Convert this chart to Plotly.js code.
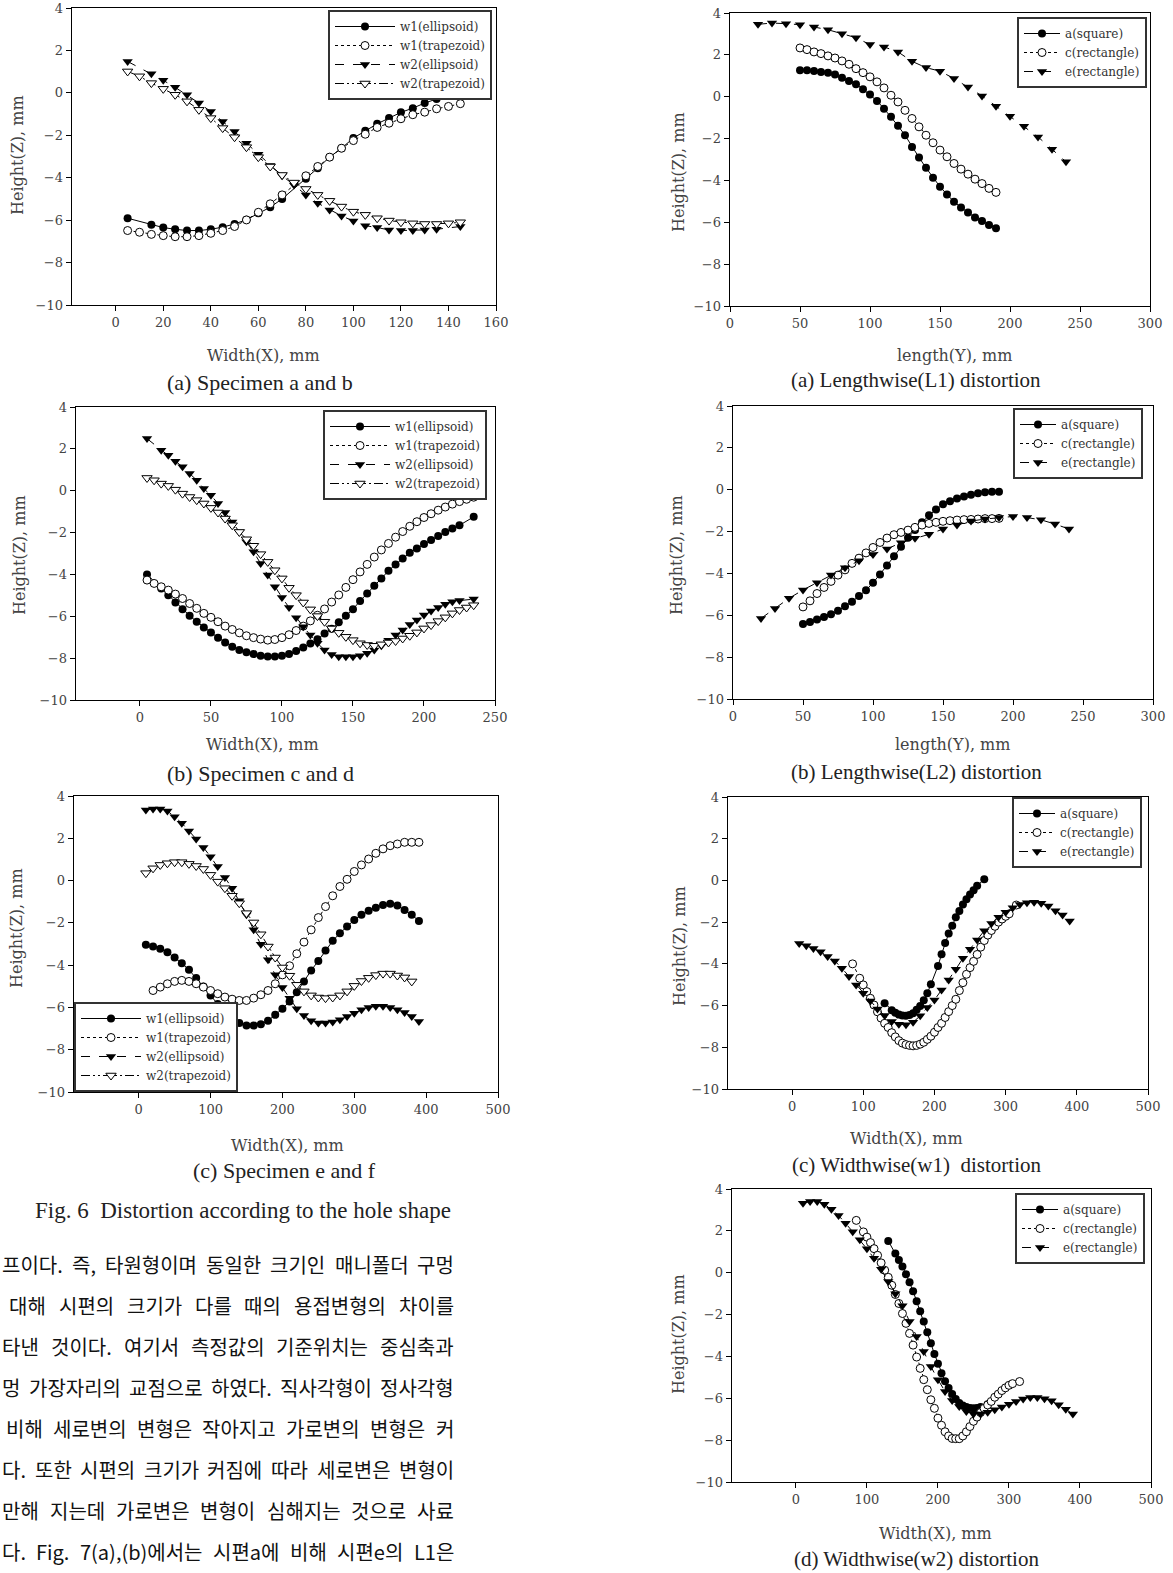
<!DOCTYPE html>
<html><head><meta charset="utf-8">
<script src="https://cdn.plot.ly/plotly-3.0.1.min.js"></script>
<style>html,body{margin:0;padding:0;background:#fff;overflow:hidden}#chart{width:1173px;height:1573px}</style>
</head><body><div id="chart"></div>
<script>
// ---------------- DATA ----------------
// Fig.6 (a) Specimen a and b
const la_w1e_x = [5,15,20,25,30,35,40,45,50,55,60,65,70,80,85,90,95,100,105,110,115,120,125,130,135,145];
const la_w1e_y = [-5.91,-6.22,-6.35,-6.43,-6.49,-6.49,-6.43,-6.33,-6.18,-5.98,-5.67,-5.39,-5.0,-4.05,-3.55,-3.03,-2.61,-2.13,-1.79,-1.46,-1.19,-0.92,-0.72,-0.48,-0.29,0.04];
const la_w1t_x = [5,10,15,20,25,30,35,40,45,50,55,60,65,70,80,85,90,95,100,105,110,115,120,125,130,135,140,145];
const la_w1t_y = [-6.49,-6.57,-6.67,-6.73,-6.78,-6.78,-6.73,-6.62,-6.49,-6.3,-5.99,-5.63,-5.23,-4.81,-3.91,-3.47,-3.03,-2.61,-2.25,-1.95,-1.63,-1.43,-1.22,-1.03,-0.91,-0.75,-0.64,-0.51];
const la_w2e_x = [5,15,20,25,30,35,40,45,50,55,60,65,70,75,80,85,90,95,100,105,110,115,120,125,130,135,145];
const la_w2e_y = [1.48,0.9,0.59,0.26,-0.09,-0.48,-0.88,-1.35,-1.82,-2.37,-2.89,-3.42,-3.91,-4.34,-4.81,-5.2,-5.52,-5.8,-6.04,-6.26,-6.35,-6.46,-6.49,-6.49,-6.46,-6.43,-6.3];
const la_w2t_x = [5,10,15,20,25,30,35,40,45,50,55,60,65,70,75,80,85,90,95,100,105,110,115,120,125,130,135,140,145];
const la_w2t_y = [1.01,0.78,0.46,0.19,-0.09,-0.4,-0.8,-1.19,-1.66,-2.09,-2.56,-3.03,-3.47,-3.87,-4.23,-4.53,-4.81,-5.09,-5.36,-5.6,-5.75,-5.91,-6.02,-6.1,-6.15,-6.18,-6.18,-6.15,-6.1];

// Fig.6 (b) Specimen c and d
const lb_w1e_x = [5,15,20,25,30,35,40,45,50,55,60,65,70,75,80,85,90,95,100,105,110,115,120,125,130,135,140,145,150,155,160,165,170,175,180,185,190,195,200,205,210,215,220,225,235];
const lb_w1e_y = [-4.0,-4.67,-5.0,-5.34,-5.66,-5.97,-6.26,-6.53,-6.77,-7.02,-7.25,-7.45,-7.61,-7.72,-7.8,-7.88,-7.92,-7.92,-7.88,-7.8,-7.66,-7.49,-7.3,-7.1,-6.82,-6.6,-6.29,-5.97,-5.66,-5.27,-4.91,-4.54,-4.19,-3.83,-3.52,-3.24,-2.97,-2.76,-2.55,-2.36,-2.16,-1.97,-1.81,-1.65,-1.25];
const lb_w1t_x = [5,10,15,20,25,30,35,40,45,50,55,60,65,70,75,80,85,90,95,100,105,110,115,120,125,130,135,140,145,150,155,160,165,170,175,180,185,190,195,200,205,210,215,220,225,230,235];
const lb_w1t_y = [-4.27,-4.43,-4.59,-4.75,-4.94,-5.15,-5.39,-5.62,-5.86,-6.05,-6.26,-6.47,-6.63,-6.79,-6.93,-7.02,-7.09,-7.14,-7.11,-7.02,-6.88,-6.68,-6.47,-6.22,-5.95,-5.65,-5.32,-4.98,-4.62,-4.25,-3.88,-3.52,-3.17,-2.83,-2.52,-2.22,-1.95,-1.7,-1.48,-1.28,-1.1,-0.93,-0.78,-0.64,-0.52,-0.41,-0.31];
const lb_w2e_x = [5,15,20,25,30,35,40,45,50,55,60,65,70,75,80,85,90,95,100,105,110,115,120,125,130,135,140,145,150,155,160,165,170,175,180,185,190,195,200,205,210,215,220,225,235];
const lb_w2e_y = [2.49,1.93,1.69,1.41,1.14,0.82,0.5,0.1,-0.22,-0.61,-1.04,-1.49,-1.97,-2.44,-2.92,-3.48,-4.03,-4.59,-5.1,-5.58,-6.07,-6.5,-6.9,-7.29,-7.61,-7.82,-7.93,-7.93,-7.93,-7.88,-7.77,-7.61,-7.41,-7.14,-6.9,-6.66,-6.39,-6.18,-5.94,-5.75,-5.58,-5.42,-5.31,-5.25,-5.18];
const lb_w2t_x = [5,10,15,20,25,30,35,40,45,50,55,60,65,70,75,80,85,90,95,100,105,110,115,120,125,130,135,140,145,150,155,160,165,170,175,180,185,190,195,200,205,210,215,220,225,230,235];
const lb_w2t_y = [0.61,0.5,0.34,0.23,0.05,-0.14,-0.3,-0.45,-0.61,-0.82,-1.04,-1.33,-1.65,-1.97,-2.32,-2.63,-3.03,-3.4,-3.8,-4.19,-4.64,-4.99,-5.34,-5.67,-5.99,-6.26,-6.58,-6.79,-6.98,-7.14,-7.29,-7.37,-7.41,-7.34,-7.25,-7.18,-7.06,-6.93,-6.77,-6.58,-6.42,-6.23,-6.05,-5.86,-5.7,-5.58,-5.47];

// Fig.6 (c) Specimen e and f
const lc_w1e_x = [10,20,30,40,50,60,70,80,90,100,110,120,130,140,150,160,170,180,190,200,210,220,230,240,250,260,270,280,290,300,310,320,330,340,350,360,370,380,390];
const lc_w1e_y = [-3.04,-3.12,-3.23,-3.39,-3.64,-3.91,-4.22,-4.61,-5.01,-5.43,-5.84,-6.22,-6.5,-6.74,-6.85,-6.85,-6.79,-6.63,-6.35,-6.06,-5.72,-5.28,-4.77,-4.25,-3.8,-3.31,-2.85,-2.49,-2.17,-1.86,-1.62,-1.43,-1.28,-1.15,-1.1,-1.18,-1.39,-1.62,-1.91];
const lc_w1t_x = [20,30,40,50,60,70,80,90,100,110,120,130,140,150,160,170,180,190,200,210,220,230,240,250,260,270,280,290,300,310,320,330,340,350,360,370,380,390];
const lc_w1t_y = [-5.2,-5.04,-4.88,-4.77,-4.72,-4.77,-4.88,-5.04,-5.2,-5.35,-5.51,-5.61,-5.67,-5.67,-5.56,-5.4,-5.2,-4.88,-4.46,-4.03,-3.46,-2.91,-2.33,-1.75,-1.23,-0.72,-0.28,0.06,0.43,0.74,1.02,1.29,1.5,1.65,1.73,1.81,1.81,1.81];
const lc_w2e_x = [10,20,30,40,50,60,70,80,90,100,110,120,130,140,150,160,170,180,190,200,210,220,230,240,250,260,270,280,290,300,310,320,330,340,350,360,370,380,390];
const lc_w2e_y = [3.34,3.39,3.39,3.29,3.02,2.71,2.35,1.97,1.57,1.13,0.66,0.14,-0.36,-0.96,-1.62,-2.33,-3.01,-3.75,-4.46,-5.06,-5.56,-6.06,-6.38,-6.63,-6.74,-6.74,-6.69,-6.58,-6.43,-6.27,-6.11,-6.0,-5.95,-5.95,-6.0,-6.11,-6.24,-6.43,-6.66];
const lc_w2t_x = [10,20,30,40,50,60,70,80,90,100,110,120,130,140,150,160,170,180,190,200,210,220,230,240,250,260,270,280,290,300,310,320,330,340,350,360,370,380];
const lc_w2t_y = [0.35,0.58,0.74,0.82,0.87,0.87,0.79,0.69,0.55,0.27,-0.05,-0.36,-0.72,-1.07,-1.54,-1.98,-2.54,-3.12,-3.64,-4.11,-4.5,-4.93,-5.24,-5.43,-5.53,-5.56,-5.53,-5.43,-5.24,-4.98,-4.75,-4.6,-4.47,-4.4,-4.4,-4.49,-4.58,-4.77];

// Fig.7 (a) Lengthwise(L1)
const ra_a_x = [50,55,60,65,70,75,80,85,90,95,100,105,110,115,120,125,130,135,140,145,150,155,160,165,170,175,180,185,190];
const ra_a_y = [1.26,1.26,1.23,1.18,1.14,1.06,0.91,0.75,0.6,0.36,0.1,-0.2,-0.57,-0.96,-1.39,-1.84,-2.4,-2.9,-3.4,-3.87,-4.3,-4.67,-5.02,-5.29,-5.53,-5.77,-5.94,-6.13,-6.29];
const ra_c_x = [50,55,60,65,70,75,80,85,90,95,100,105,110,115,120,125,130,135,140,145,150,155,160,165,170,175,180,185,190];
const ra_c_y = [2.33,2.25,2.14,2.06,1.95,1.85,1.71,1.55,1.34,1.15,0.95,0.71,0.42,0.07,-0.25,-0.65,-1.04,-1.44,-1.84,-2.2,-2.55,-2.87,-3.19,-3.46,-3.7,-3.94,-4.15,-4.38,-4.57];
const ra_e_x = [20,30,40,50,60,70,80,90,100,110,120,130,140,150,160,170,180,190,200,210,220,230,240];
const ra_e_y = [3.46,3.52,3.49,3.44,3.33,3.2,3.01,2.82,2.49,2.38,2.14,1.69,1.39,1.22,0.87,0.47,0.04,-0.45,-0.93,-1.41,-1.92,-2.51,-3.11];

// Fig.7 (b) Lengthwise(L2)
const rb_a_x = [50,55,60,65,70,75,80,85,90,95,100,105,110,115,120,125,130,135,140,145,150,155,160,165,170,175,180,185,190];
const rb_a_y = [-6.42,-6.32,-6.2,-6.08,-5.95,-5.78,-5.57,-5.35,-5.08,-4.8,-4.45,-4.05,-3.62,-3.18,-2.72,-2.3,-1.92,-1.55,-1.22,-0.95,-0.7,-0.55,-0.42,-0.32,-0.24,-0.17,-0.12,-0.1,-0.1];
const rb_c_x = [50,55,60,65,70,75,80,85,90,95,100,105,110,115,120,125,130,135,140,145,150,155,160,165,170,175,180,185,190];
const rb_c_y = [-5.6,-5.31,-4.96,-4.67,-4.38,-4.08,-3.83,-3.52,-3.27,-3.02,-2.76,-2.52,-2.31,-2.15,-2.04,-1.93,-1.8,-1.69,-1.61,-1.56,-1.51,-1.48,-1.45,-1.43,-1.42,-1.4,-1.38,-1.38,-1.37];
const rb_e_x = [20,30,40,50,60,70,80,90,100,110,120,130,140,150,160,170,180,190,200,210,220,230,240];
const rb_e_y = [-6.15,-5.67,-5.19,-4.79,-4.44,-4.08,-3.73,-3.39,-3.09,-2.83,-2.53,-2.32,-2.13,-1.88,-1.69,-1.5,-1.4,-1.33,-1.28,-1.33,-1.44,-1.64,-1.88];

// Fig.7 (c) Widthwise(w1)
const rc_a_x = [130,140,145,150,155,160,165,170,175,180,185,190,195,205,210,215,220,225,230,235,240,245,250,255,260,270];
const rc_a_y = [-5.89,-6.22,-6.35,-6.43,-6.48,-6.49,-6.45,-6.37,-6.2,-6.02,-5.75,-5.41,-4.98,-4.1,-3.54,-3.0,-2.54,-2.17,-1.77,-1.47,-1.15,-0.9,-0.67,-0.47,-0.26,0.06];
const rc_c_x = [85,95,100,105,110,115,120,125,130,135,140,145,150,155,160,165,170,175,180,185,190,195,200,205,210,215,220,225,230,235,240,245,250,255,260,265,270,275,280,285,290,295,300,305,315];
const rc_c_y = [-4.0,-4.69,-5.01,-5.33,-5.65,-5.97,-6.3,-6.6,-6.85,-7.05,-7.3,-7.5,-7.68,-7.8,-7.87,-7.91,-7.93,-7.91,-7.85,-7.76,-7.62,-7.47,-7.28,-7.05,-6.85,-6.57,-6.29,-6.0,-5.7,-5.28,-4.9,-4.5,-4.18,-3.88,-3.55,-3.2,-2.88,-2.62,-2.4,-2.2,-2.0,-1.85,-1.72,-1.6,-1.18];
const rc_e_x = [10,20,30,40,50,60,70,80,90,100,110,120,130,140,150,160,170,180,190,200,210,220,230,240,250,260,270,280,290,300,310,320,330,340,350,360,370,380,390];
const rc_e_y = [-3.02,-3.13,-3.26,-3.42,-3.65,-3.86,-4.21,-4.61,-5.01,-5.41,-5.78,-6.16,-6.48,-6.76,-6.89,-6.92,-6.8,-6.49,-6.09,-5.73,-5.25,-4.77,-4.26,-3.73,-3.3,-2.86,-2.41,-2.06,-1.77,-1.53,-1.31,-1.15,-1.07,-1.05,-1.1,-1.23,-1.45,-1.66,-1.95];

// Fig.7 (d) Widthwise(w2)
const rd_a_x = [130,140,145,150,155,160,165,170,175,180,185,190,195,200,205,210,215,220,225,230,235,240,245,250,255,260,270];
const rd_a_y = [1.52,0.92,0.61,0.3,-0.07,-0.45,-0.88,-1.36,-1.84,-2.33,-2.84,-3.37,-3.88,-4.35,-4.8,-5.19,-5.51,-5.8,-6.04,-6.23,-6.34,-6.42,-6.47,-6.48,-6.47,-6.42,-6.28];
const rd_c_x = [85,95,100,105,110,115,120,125,130,135,140,145,150,155,160,165,170,175,180,185,190,195,200,205,210,215,220,225,230,235,240,245,250,255,260,265,270,275,280,285,290,295,300,305,315];
const rd_c_y = [2.5,1.95,1.7,1.44,1.15,0.83,0.47,0.12,-0.22,-0.6,-1.04,-1.47,-1.95,-2.42,-2.9,-3.46,-4.03,-4.57,-5.11,-5.59,-6.07,-6.48,-6.95,-7.29,-7.6,-7.8,-7.92,-7.93,-7.93,-7.8,-7.6,-7.35,-7.1,-6.9,-6.68,-6.48,-6.32,-6.15,-5.95,-5.8,-5.63,-5.5,-5.38,-5.3,-5.2];
const rd_e_x = [10,20,30,40,50,60,70,80,90,100,110,120,130,140,150,160,170,180,190,200,210,220,230,240,250,260,270,280,290,300,310,320,330,340,350,360,370,380,390];
const rd_e_y = [3.32,3.4,3.4,3.27,3.03,2.73,2.36,1.96,1.57,1.14,0.69,0.17,-0.42,-1.01,-1.58,-2.33,-3.05,-3.76,-4.48,-5.11,-5.67,-6.1,-6.39,-6.63,-6.75,-6.75,-6.67,-6.55,-6.42,-6.28,-6.15,-6.04,-5.96,-5.96,-6.02,-6.12,-6.31,-6.52,-6.75];

// Names / ticks / texts
const namesHole = ["w1(ellipsoid)", "w1(trapezoid)", "w2(ellipsoid)", "w2(trapezoid)"];
const namesSpec = ["a(square)", "c(rectangle)", "e(rectangle)"];
const yTicks = [-10,-8,-6,-4,-2,0,2,4];
const xTicksA = [0,20,40,60,80,100,120,140,160];
const xTicksB = [0,50,100,150,200,250];
const xTicks500 = [0,100,200,300,400,500];
const xTicks300 = [0,50,100,150,200,250,300];
const yTitle = "Height(Z), mm";
const xTitleW = "Width(X), mm";
const xTitleL = "length(Y), mm";
const subTitles = ["(a) Specimen a and b", "(b) Specimen c and d", "(c) Specimen e and f",
  "(a) Lengthwise(L1) distortion", "(b) Lengthwise(L2) distortion",
  "(c) Widthwise(w1)  distortion", "(d) Widthwise(w2) distortion"];
const captionText = "Fig. 6  Distortion according to the hole shape";
const bodyLines = [
  "프이다. 즉, 타원형이며 동일한 크기인 매니폴더 구멍",
  "대해 시편의 크기가 다를 때의 용접변형의 차이를",
  "타낸 것이다. 여기서 측정값의 기준위치는 중심축과",
  "멍 가장자리의 교점으로 하였다. 직사각형이 정사각형",
  "비해 세로변의 변형은 작아지고 가로변의 변형은 커",
  "다. 또한 시편의 크기가 커짐에 따라 세로변은 변형이",
  "만해 지는데 가로변은 변형이 심해지는 것으로 사료",
  "다. Fig. 7(a),(b)에서는 시편a에 비해 시편e의 L1은"
];

// ---------------- LAYOUT ----------------
const W = 1173, H = 1573;
const px = v => v / W, py = v => 1 - v / H;
const SERIF = "DejaVu Serif";

const S = {
  fc: {dash: 'solid', marker: {symbol: 'circle', size: 8, color: '#000'}},
  oc: {dash: 'dot', marker: {symbol: 'circle', size: 8, color: '#fff', line: {color: '#000', width: 1}}},
  ft: {dash: 'dash', marker: {symbol: 'triangle-down', size: 9, color: '#000'}},
  ot: {dash: '9px,3px,2px,3px,2px,3px', marker: {symbol: 'triangle-down', size: 9, color: '#fff', line: {color: '#000', width: 1}}}
};

const traces = [];
function add(x, y, name, st, n) {
  const sfx = n === 1 ? '' : String(n);
  traces.push({
    type: 'scatter', mode: 'lines+markers', x: x, y: y, name: name,
    xaxis: 'x' + sfx, yaxis: 'y' + sfx, legend: 'legend' + sfx,
    line: {color: '#000', width: 1, dash: st.dash}, marker: st.marker, showlegend: true
  });
}
add(la_w1e_x, la_w1e_y, namesHole[0], S.fc, 1);
add(la_w1t_x, la_w1t_y, namesHole[1], S.oc, 1);
add(la_w2e_x, la_w2e_y, namesHole[2], S.ft, 1);
add(la_w2t_x, la_w2t_y, namesHole[3], S.ot, 1);
add(lb_w1e_x, lb_w1e_y, namesHole[0], S.fc, 2);
add(lb_w1t_x, lb_w1t_y, namesHole[1], S.oc, 2);
add(lb_w2e_x, lb_w2e_y, namesHole[2], S.ft, 2);
add(lb_w2t_x, lb_w2t_y, namesHole[3], S.ot, 2);
add(lc_w1e_x, lc_w1e_y, namesHole[0], S.fc, 3);
add(lc_w1t_x, lc_w1t_y, namesHole[1], S.oc, 3);
add(lc_w2e_x, lc_w2e_y, namesHole[2], S.ft, 3);
add(lc_w2t_x, lc_w2t_y, namesHole[3], S.ot, 3);
add(ra_a_x, ra_a_y, namesSpec[0], S.fc, 4);
add(ra_c_x, ra_c_y, namesSpec[1], S.oc, 4);
add(ra_e_x, ra_e_y, namesSpec[2], S.ft, 4);
add(rb_a_x, rb_a_y, namesSpec[0], S.fc, 5);
add(rb_c_x, rb_c_y, namesSpec[1], S.oc, 5);
add(rb_e_x, rb_e_y, namesSpec[2], S.ft, 5);
add(rc_a_x, rc_a_y, namesSpec[0], S.fc, 6);
add(rc_c_x, rc_c_y, namesSpec[1], S.oc, 6);
add(rc_e_x, rc_e_y, namesSpec[2], S.ft, 6);
add(rd_a_x, rd_a_y, namesSpec[0], S.fc, 7);
add(rd_c_x, rd_c_y, namesSpec[1], S.oc, 7);
add(rd_e_x, rd_e_y, namesSpec[2], S.ft, 7);

// panel boxes in pixels: left, right, top, bottom, xrange, xticks
const panels = [
  {l: 72, r: 496, t: 8, b: 305, xr: [-18.4, 160], xt: xTicksA},
  {l: 76, r: 495, t: 407, b: 700, xr: [-45, 250], xt: xTicksB},
  {l: 74, r: 498, t: 796, b: 1092, xr: [-90, 500], xt: xTicks500},
  {l: 730, r: 1150, t: 13, b: 306, xr: [0, 300], xt: xTicks300},
  {l: 733, r: 1153, t: 406, b: 699, xr: [0, 300], xt: xTicks300},
  {l: 728, r: 1148, t: 797, b: 1089, xr: [-90, 500], xt: xTicks500},
  {l: 732, r: 1151, t: 1189, b: 1482, xr: [-90, 500], xt: xTicks500}
];

const layout = {
  width: W, height: H, margin: {l: 0, r: 0, t: 0, b: 0},
  paper_bgcolor: '#fff', plot_bgcolor: '#fff', hovermode: false,
  font: {family: SERIF, color: '#333'},
  annotations: [], shapes: []
};

const axisBase = {
  showgrid: false, zeroline: false, showline: true, linecolor: '#000', linewidth: 1.4,
  mirror: true, ticks: 'outside', ticklen: 5, tickwidth: 1, tickcolor: '#000',
  tickfont: {family: SERIF, size: 13, color: '#444'}, fixedrange: true
};

panels.forEach((p, i) => {
  const n = i + 1, sfx = n === 1 ? '' : String(n);
  layout['xaxis' + sfx] = Object.assign({}, axisBase, {
    domain: [px(p.l), px(p.r)], range: p.xr, tickvals: p.xt, anchor: 'y' + sfx
  });
  layout['yaxis' + sfx] = Object.assign({}, axisBase, {
    domain: [py(p.b), py(p.t)], range: [-10, 4], tickvals: yTicks, anchor: 'x' + sfx
  });
});

// legends
const legBase = {bgcolor: '#fff', bordercolor: '#333', borderwidth: 2,
  font: {family: SERIF, size: 12, color: '#333'}, tracegroupgap: 0,
  itemclick: false, itemdoubleclick: false};
const legPos = [
  {x: 492, y: 10, xa: 'right', ya: 'top', iw: 60},
  {x: 487, y: 410, xa: 'right', ya: 'top', iw: 60},
  {x: 74, y: 1092, xa: 'left', ya: 'bottom', iw: 60},
  {x: 1147, y: 17, xa: 'right', ya: 'top', iw: 36},
  {x: 1143, y: 408, xa: 'right', ya: 'top', iw: 36},
  {x: 1142, y: 797, xa: 'right', ya: 'top', iw: 36},
  {x: 1145, y: 1193, xa: 'right', ya: 'top', iw: 36}
];
legPos.forEach((L, i) => {
  const key = i === 0 ? 'legend' : 'legend' + (i + 1);
  layout[key] = Object.assign({}, legBase, {x: px(L.x), y: py(L.y), xanchor: L.xa, yanchor: L.ya,
    xref: 'paper', yref: 'paper', itemwidth: L.iw});
});

function ann(text, x, y, opts) {
  layout.annotations.push(Object.assign({text: text, x: px(x), y: py(y), xref: 'paper', yref: 'paper',
    showarrow: false, xanchor: 'center', yanchor: 'middle'}, opts || {}));
}
const titleFont = {family: SERIF, size: 16, color: '#444'};
// y titles
[[18, 155], [20, 555], [17, 928], [678, 172], [677, 555], [680, 946], [678, 1334]].forEach(p =>
  ann(yTitle, p[0], p[1], {textangle: -90, font: titleFont}));
// x titles
[[263, 355, xTitleW], [262, 744, xTitleW], [287, 1145, xTitleW], [954, 355, xTitleL],
 [952, 745, xTitleL], [907, 1138, xTitleW], [935, 1533, xTitleW]].forEach(p =>
  ann(p[2], p[0], p[1], {font: titleFont}));
// subtitles
[[260, 382, 22], [260, 773, 22], [284, 1170, 22], [916, 380, 21], [916, 772, 21], [916, 1165, 21], [916, 1559, 21]].forEach((p, i) =>
  ann(subTitles[i], p[0], p[1], {font: {family: 'Liberation Serif', size: p[2], color: '#222'}}));
// caption
ann(captionText, 243, 1210, {font: {family: 'Liberation Serif', size: 23, color: '#222'}});

// body text: justified lines in the left column, words laid out between start and right edge
const bodyFontSize = 20, bodyFamily = 'Noto Sans CJK KR';
const lineStart = [1, 8, 1, 1, 5, 1, 1, 1];
const cv = document.createElement('canvas').getContext('2d');
cv.font = bodyFontSize + 'px "' + bodyFamily + '"';
bodyLines.forEach((line, i) => {
  const words = line.split(' ');
  const widths = words.map(w => cv.measureText(w).width);
  const total = widths.reduce((a, b) => a + b, 0);
  const right = 453, left = lineStart[i];
  const gap = words.length > 1 ? (right - left - total) / (words.length - 1) : 0;
  let x = left;
  const y = 1264 + 41 * i;
  words.forEach((w, j) => {
    ann(w, x - 1, y, {xanchor: 'left', font: {family: bodyFamily, size: bodyFontSize, color: '#111'}});
    x += widths[j] + gap;
  });
});

Plotly.newPlot('chart', traces, layout, {staticPlot: true, displayModeBar: false});
</script></body></html>
